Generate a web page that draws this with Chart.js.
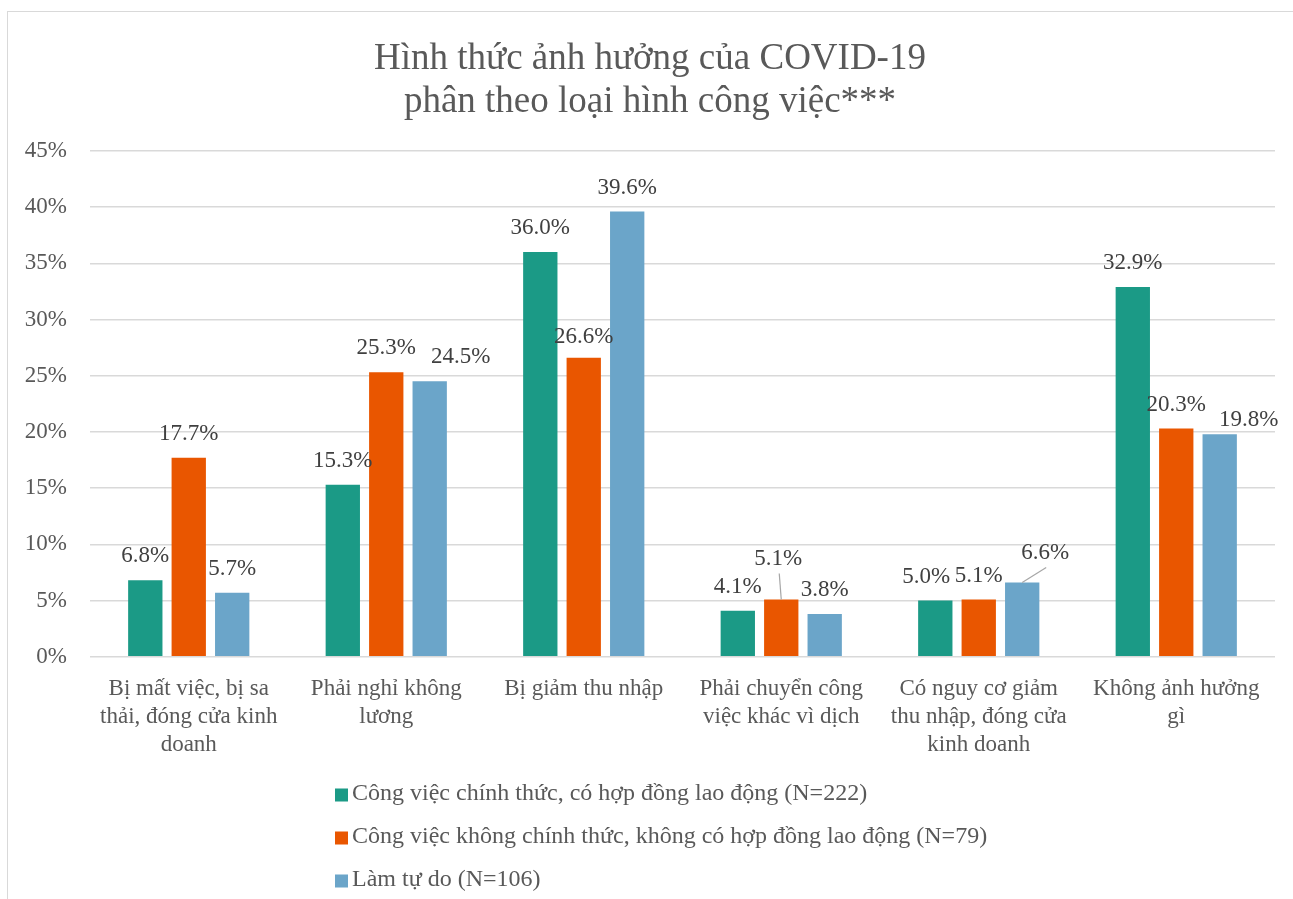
<!DOCTYPE html>
<html>
<head>
<meta charset="utf-8">
<script src="https://cdn.jsdelivr.net/npm/chart.js@4/dist/chart.umd.min.js"></script>
<style>
html, body { margin: 0; padding: 0; background: #fff; }
#frame { position: absolute; left: 7px; top: 11px; width: 1300px; height: 900px; border: 1px solid #d9d9d9; box-sizing: border-box; }
#wrap { position: absolute; left: 0; top: 0; width: 1293px; height: 899px; }
</style>
</head>
<body>
<div id="frame"></div>
<div id="wrap"><canvas id="c" width="1293" height="899"></canvas></div>
<script>
var TITLE_LINES = ['Hình thức ảnh hưởng của COVID-19', 'phân theo loại hình công việc***'];

var CATEGORIES = [
    ['Bị mất việc, bị sa', 'thải, đóng cửa kinh', 'doanh'],
    ['Phải nghỉ không', 'lương'],
    'Bị giảm thu nhập',
    ['Phải chuyển công', 'việc khác vì dịch'],
    ['Có nguy cơ giảm', 'thu nhập, đóng cửa', 'kinh doanh'],
    ['Không ảnh hưởng', 'gì']
];

var SERIES_NAMES = [
    'Công việc chính thức, có hợp đồng lao động (N=222)',
    'Công việc không chính thức, không có hợp đồng lao động (N=79)',
    'Làm tự do (N=106)'
];

var FORMAL = [6.8, 15.3, 36.0, 4.1, 5.0, 32.9];
var INFORMAL = [17.7, 25.3, 26.6, 5.1, 5.1, 20.3];
var FREELANCE = [5.7, 24.5, 39.6, 3.8, 6.6, 19.8];

var COLORS = ['#1b9a86', '#e95600', '#6ba5c9'];
var SERIF = "'Liberation Serif', 'Times New Roman', serif";

// label nudges for the few labels that were dragged off their bar: "dataset,index": [dx, dy, leader]
var LABEL_NUDGE = {
    '2,1': [31, 0],
    '1,2': [0, 3],
    '1,3': [-3, -17, true],
    '0,4': [-9, 0],
    '2,4': [23, -6, true],
    '2,5': [29, 10]
};

var valueLabels = {
    id: 'valueLabels',
    afterDatasetsDraw: function (chart) {
        var ctx = chart.ctx;
        ctx.save();
        ctx.font = '23px ' + SERIF;
        ctx.fillStyle = '#404040';
        ctx.textAlign = 'center';
        ctx.textBaseline = 'middle';
        chart.data.datasets.forEach(function (ds, di) {
            var meta = chart.getDatasetMeta(di);
            meta.data.forEach(function (bar, i) {
                var nudge = LABEL_NUDGE[di + ',' + i] || [0, 0];
                var lx = bar.x + nudge[0];
                var ly = bar.y - 24 + nudge[1];
                if (nudge[2]) {
                    ctx.strokeStyle = '#a6a6a6';
                    ctx.lineWidth = 1.2;
                    ctx.beginPath();
                    ctx.moveTo(lx + 1, ly + 15);
                    ctx.lineTo(bar.x, bar.y);
                    ctx.stroke();
                }
                ctx.fillText(ds.data[i].toFixed(1) + '%', lx, ly);
            });
        });
        ctx.restore();
    }
};

var stackedLegend = {
    id: 'stackedLegend',
    afterDraw: function (chart) {
        var ctx = chart.ctx;
        var left = 335, top = 794, step = 43, box = 13;
        ctx.save();
        ctx.font = '24px ' + SERIF;
        ctx.textBaseline = 'middle';
        ctx.textAlign = 'left';
        chart.data.datasets.forEach(function (ds, di) {
            var y = top + di * step;
            ctx.fillStyle = ds.backgroundColor;
            ctx.fillRect(left, y - box / 2 + 1, box, box);
            ctx.fillStyle = '#595959';
            ctx.fillText(ds.label, left + box + 4, y);
        });
        ctx.restore();
    }
};

new Chart(document.getElementById('c'), {
    type: 'bar',
    data: {
        labels: CATEGORIES,
        datasets: [
            { label: SERIES_NAMES[0], data: FORMAL, backgroundColor: COLORS[0] },
            { label: SERIES_NAMES[1], data: INFORMAL, backgroundColor: COLORS[1] },
            { label: SERIES_NAMES[2], data: FREELANCE, backgroundColor: COLORS[2] }
        ]
    },
    options: {
        responsive: false,
        devicePixelRatio: 1,
        animation: false,
        layout: { padding: { left: 25, right: 18, top: 0, bottom: 122 } },
        datasets: { bar: { categoryPercentage: 0.66, barPercentage: 0.79 } },
        plugins: {
            legend: { display: false },
            tooltip: { enabled: false },
            title: {
                display: true,
                text: TITLE_LINES,
                color: '#595959',
                font: { family: SERIF, size: 37, weight: 'normal', lineHeight: 1.16 },
                padding: { top: 38, bottom: 27 }
            }
        },
        scales: {
            x: {
                grid: { display: false, drawTicks: false },
                border: { display: false },
                ticks: {
                    color: '#595959',
                    font: { family: SERIF, size: 23, lineHeight: 1.22 },
                    padding: 18,
                    maxRotation: 0,
                    autoSkip: false
                }
            },
            y: {
                min: 0,
                max: 45,
                afterFit: function (scale) { scale.width = 65; },
                grid: { color: '#d9d9d9', lineWidth: 1.5, drawTicks: false },
                border: { display: false },
                ticks: {
                    stepSize: 5,
                    color: '#595959',
                    padding: 23,
                    font: { family: SERIF, size: 23 },
                    callback: function (v) { return v + '%'; }
                }
            }
        }
    },
    plugins: [valueLabels, stackedLegend]
});
</script>
</body>
</html>
